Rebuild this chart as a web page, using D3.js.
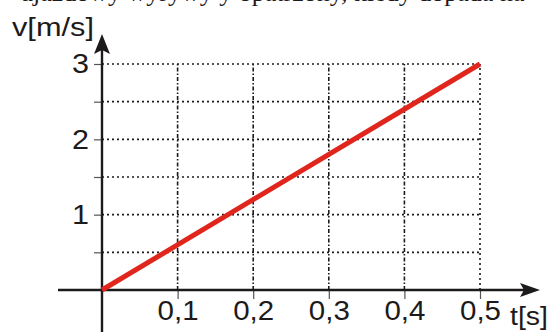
<!DOCTYPE html>
<html><head><meta charset="utf-8">
<script src="https://cdn.jsdelivr.net/npm/d3@7"></script>
<style>
html,body{margin:0;padding:0;background:#fff;}
svg{display:block;}
</style></head>
<body>
<script>
// ---- data ----
const timeValues = [0, 0.5];          // t [s]
const speedValues = [0, 3];           // v [m/s]
const xTickValues = [0.1, 0.2, 0.3, 0.4, 0.5];
const xTickLabels = ["0,1", "0,2", "0,3", "0,4", "0,5"];
const yTickValues = [0.5, 1, 1.5, 2, 2.5, 3];
const yTickLabels = ["", "1", "", "2", "", "3"];
const xAxisTitle = "t[s]";
const yAxisTitle = "v[m/s]";
const topText = "ujazdowy wyrywy y opatrzony, kiedy dopada na";

const W = 553, H = 332;
const svg = d3.select("body").append("svg").attr("width", W).attr("height", H);

const x = d3.scaleLinear().domain([0, 0.5]).range([102, 480]);
const y = d3.scaleLinear().domain([0, 3]).range([290, 64]);
const ink = "#1d1a1b";

// clipped line of text at top
svg.append("text").attr("x", 20).attr("y", 1)
  .attr("font-family", "Liberation Serif, Times New Roman, serif")
  .attr("font-size", 26).attr("fill", ink).text(topText);

// grid
const grid = svg.append("g");
grid.selectAll("line.h").data(yTickValues).join("line")
  .attr("x1", x(0)).attr("x2", x(0.5))
  .attr("y1", d => y(d)).attr("y2", d => y(d))
  .attr("stroke", ink).attr("stroke-width", 1.6).attr("stroke-dasharray", "2,3");
grid.selectAll("line.v").data(xTickValues).join("line")
  .attr("x1", d => x(d)).attr("x2", d => x(d))
  .attr("y1", y(0)).attr("y2", y(3))
  .attr("stroke", ink).attr("stroke-width", 1.6)
  .attr("stroke-dasharray", (d, i) => i === xTickValues.length - 1 ? "2,3" : "4,2,1.5,2");

// axes ticks and labels via d3 axes
const xAxis = d3.axisBottom(x).tickValues(xTickValues)
  .tickFormat((d, i) => xTickLabels[i]).tickSize(9).tickPadding(1);
const gx = svg.append("g").attr("transform", `translate(0,${y(0)})`).call(xAxis);
gx.select(".domain").remove();
gx.selectAll(".tick line").attr("stroke", "#555").attr("stroke-width", 1.2);
gx.selectAll(".tick text").attr("font-family", "Liberation Sans, Arial, sans-serif")
  .attr("font-size", 28).attr("fill", ink)
  .attr("textLength", 41).attr("lengthAdjust", "spacingAndGlyphs");

const yAxis = d3.axisLeft(y).tickValues(yTickValues)
  .tickFormat((d, i) => yTickLabels[i]).tickSize(8).tickPadding(5);
const gy = svg.append("g").attr("transform", `translate(${x(0)},0)`).call(yAxis);
gy.select(".domain").remove();
gy.selectAll(".tick line").attr("stroke", "#555").attr("stroke-width", 1.2);
gy.selectAll(".tick text").attr("font-family", "Liberation Sans, Arial, sans-serif")
  .attr("font-size", 28).attr("fill", ink)
  .each(function(d, i) { if (yTickLabels[i]) d3.select(this).attr("textLength", 17).attr("lengthAdjust", "spacingAndGlyphs"); });

// axis lines with arrows
svg.append("line").attr("x1", 58).attr("x2", 525).attr("y1", y(0)).attr("y2", y(0))
  .attr("stroke", ink).attr("stroke-width", 2.4);
svg.append("path").attr("d", `M540,${y(0)} L520,${y(0) - 7} L524,${y(0)} L520,${y(0) + 7} Z`).attr("fill", ink);
svg.append("line").attr("x1", x(0)).attr("x2", x(0)).attr("y1", H).attr("y2", 48)
  .attr("stroke", ink).attr("stroke-width", 2.4);
svg.append("path").attr("d", `M${x(0)},34 L${x(0) - 8},54 L${x(0)},50 L${x(0) + 8},54 Z`).attr("fill", ink);

// axis titles
svg.append("text").attr("x", 12).attr("y", 36)
  .attr("font-family", "Liberation Sans, Arial, sans-serif").attr("font-size", 25).attr("fill", ink)
  .attr("textLength", 82).attr("lengthAdjust", "spacingAndGlyphs").text(yAxisTitle);
svg.append("text").attr("x", 510).attr("y", 325)
  .attr("font-family", "Liberation Sans, Arial, sans-serif").attr("font-size", 25).attr("fill", ink)
  .attr("textLength", 38).attr("lengthAdjust", "spacingAndGlyphs").text(xAxisTitle);

// data line
const line = d3.line().x(d => x(d[0])).y(d => y(d[1]));
svg.append("path").datum(timeValues.map((t, i) => [t, speedValues[i]]))
  .attr("d", line).attr("fill", "none").attr("stroke", "#e0261c").attr("stroke-width", 5);
</script>
</body></html>
